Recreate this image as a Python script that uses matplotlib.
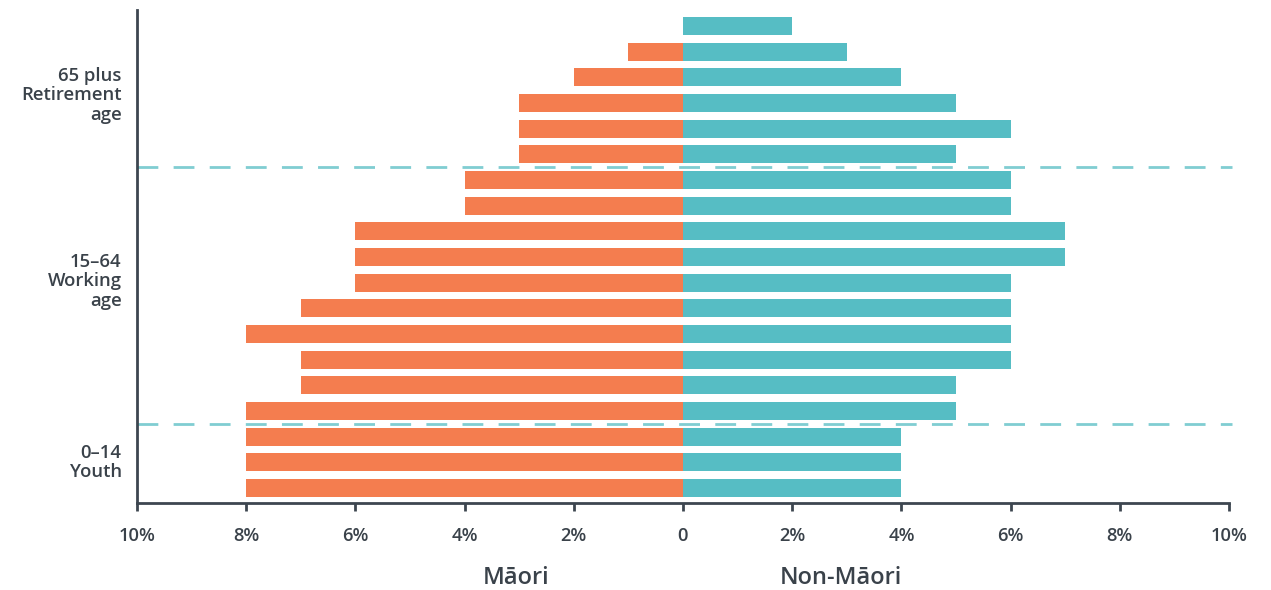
import matplotlib
matplotlib.use("Agg")
import matplotlib.pyplot as plt
import numpy as np

age_groups = ["0–4", "5–9", "10–14", "15–19", "20–24", "25–29", "30–34", "35–39",
              "40–44", "45–49", "50–54", "55–59", "60–64", "65–69", "70–74",
              "75–79", "80–84", "85–89", "90+"]
maori = [8, 8, 8, 8, 7, 7, 8, 7, 6, 6, 6, 4, 4, 3, 3, 3, 2, 1, 0]
non_maori = [4, 4, 4, 5, 5, 6, 6, 6, 6, 7, 7, 6, 6, 5, 6, 5, 4, 3, 2]
x_ticks = [-10, -8, -6, -4, -2, 0, 2, 4, 6, 8, 10]
x_tick_labels = ["10%", "8%", "6%", "4%", "2%", "0", "2%", "4%", "6%", "8%", "10%"]
group_labels = ["0–14\nYouth", "15–64\nWorking\nage", "65 plus\nRetirement\nage"]
group_centers = [1.0, 8.05, 15.3]
group_bounds = [2.5, 12.5]

ORANGE = "#F47D4F"
TEAL = "#56BDC4"
DASH = "#80CDD2"
TEXT = "#3A424A"
AXIS = "#3D4650"

plt.rcParams["font.family"] = ["Open Sans", "DejaVu Sans"]

fig = plt.figure(figsize=(12.71, 5.90), dpi=100)
ax = fig.add_axes([137/1271, 87/590, 1092/1271, 493/590])

y = np.arange(len(age_groups))
ax.barh(y, [-v for v in maori], height=0.7, color=ORANGE, zorder=2)
ax.barh(y, non_maori, height=0.7, color=TEAL, zorder=2)

for b in group_bounds:
    ax.plot([-10, 10.05], [b, b], color=DASH, lw=2, dashes=(7.5, 5.5), zorder=1,
            clip_on=False)

ax.set_xlim(-10, 10)
ax.set_ylim(-0.58, 18.62)
ax.set_xticks(x_ticks)
ax.set_xticklabels(x_tick_labels, fontsize=13.2, fontweight="semibold", color=TEXT)
ax.set_yticks([])
ax.tick_params(axis="x", length=6, width=2, color=AXIS, pad=11)

for s in ["top", "right"]:
    ax.spines[s].set_visible(False)
for s in ["left", "bottom"]:
    ax.spines[s].set_color(AXIS)
    ax.spines[s].set_linewidth(2)

for lab, c in zip(group_labels, group_centers):
    ax.text(-0.014, c, lab, transform=ax.get_yaxis_transform(), ha="right",
            va="center", fontsize=13.3, fontweight="semibold", color=TEXT,
            linespacing=1.1)

ax.text(-3.05, -3.5, "Māori", ha="center", va="center", fontsize=17,
        fontweight="semibold", color=TEXT, clip_on=False)
ax.text(2.9, -3.5, "Non-Māori", ha="center", va="center", fontsize=17,
        fontweight="semibold", color=TEXT, clip_on=False)

fig.savefig("out.png", dpi=100)
